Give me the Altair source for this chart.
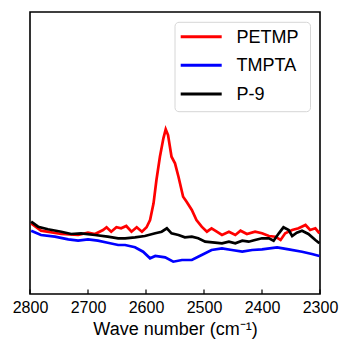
import altair as alt
import pandas as pd

# Wave numbers (cm^-1) and relative intensities (arbitrary units)
petmp_x = [2798, 2781, 2746, 2717, 2700, 2688, 2674, 2668, 2660, 2651, 2643, 2634, 2625, 2616,
           2607, 2599, 2593, 2587, 2582, 2576, 2570, 2566, 2562, 2556, 2550, 2544, 2536, 2530,
           2521, 2513, 2504, 2495, 2487, 2478, 2469, 2457, 2446, 2437, 2426, 2412, 2400, 2388,
           2377, 2368, 2360, 2348, 2337, 2325, 2317, 2308, 2301]
petmp_y = [70.7, 63.3, 60, 59, 61.3, 60, 64, 66.7, 62.3, 66.7, 65.7, 68, 62.3, 66.7,
           62.3, 66.7, 74, 90.7, 114, 137.3, 155.7, 164.7, 159, 137.3, 130.7, 117.3, 97.3, 92.3,
           84, 74, 67.3, 62.3, 65.7, 62.3, 59, 62.3, 59, 63.3, 60, 62.3, 60.7, 58,
           57.3, 54, 60.7, 64, 65.7, 69, 64, 65.7, 60.7]

tmpta_x = [2798, 2781, 2757, 2734, 2717, 2700, 2683, 2666, 2648, 2636, 2619, 2605, 2593, 2584,
           2567, 2553, 2538, 2521, 2504, 2487, 2469, 2452, 2434, 2417, 2400, 2374, 2354, 2331,
           2314, 2301]
tmpta_y = [63.3, 59, 57.3, 54.7, 53.3, 54.7, 53.3, 51.3, 49, 49, 46.7, 42.3, 35.7, 38,
           36.7, 32.3, 34, 34, 39, 44, 45.7, 44, 42.3, 44, 44.7, 46.7, 44.7, 42.3,
           40, 38]

p9_x = [2798, 2786, 2769, 2746, 2729, 2712, 2688, 2666, 2648, 2636, 2619, 2602, 2584, 2573,
        2564, 2556, 2544, 2533, 2521, 2510, 2498, 2481, 2469, 2457, 2446, 2434, 2423, 2412,
        2400, 2388, 2380, 2371, 2363, 2354, 2348, 2340, 2331, 2320, 2308, 2301]
p9_y = [72.3, 67.3, 64.7, 62.3, 60, 60.7, 59, 57.3, 55.7, 55.7, 56.7, 58, 60.7, 62.3,
        65.7, 60.7, 59, 56.7, 57.3, 55.7, 52.3, 51.3, 50.7, 52.3, 50.7, 53.3, 52.3, 54,
        55.7, 55.7, 53.3, 60.7, 66.7, 64, 58, 61.3, 63.3, 60, 54, 50.7]

series_names = ["PETMP", "TMPTA", "P-9"]
series_colors = ["#ff0000", "#0000ff", "#000000"]
tick_values = [2800, 2700, 2600, 2500, 2400, 2300]

frames = []
for name, xs, ys in [("PETMP", petmp_x, petmp_y), ("TMPTA", tmpta_x, tmpta_y), ("P-9", p9_x, p9_y)]:
    frames.append(pd.DataFrame({"wn": xs, "inten": ys, "sample": name, "order": range(len(xs))}))
df = pd.concat(frames, ignore_index=True)
ticks_df = pd.DataFrame({"wn": tick_values})
legend_df = pd.DataFrame({"sample": series_names, "row": range(len(series_names))})

FONT = "Liberation Sans"
xscale = alt.Scale(domain=[2300, 2800], reverse=True, nice=False, zero=False)
yscale = alt.Scale(domain=[0, 282], nice=False, zero=False)
cscale = alt.Scale(domain=series_names, range=series_colors)

lines = alt.Chart(df).mark_line(strokeWidth=2.7, clip=True).encode(
    x=alt.X("wn:Q", scale=xscale,
            axis=alt.Axis(values=tick_values, format="d", title="Wave number (cm⁻¹)",
                          ticks=False, domain=False, grid=False, labelPadding=5,
                          labelFontSize=16, labelFont=FONT, labelColor="black",
                          titleFontSize=18, titleFont=FONT, titleFontWeight="normal",
                          titleColor="black", titlePadding=5, labelFlush=False)),
    y=alt.Y("inten:Q", scale=yscale, axis=None),
    color=alt.Color("sample:N", scale=cscale, legend=None),
    order="order:Q",
)

tickmarks = alt.Chart(ticks_df).mark_rule(color="black", strokeWidth=1.2).encode(
    x=alt.X("wn:Q", scale=xscale),
    y=alt.value(282),
    y2=alt.value(277.5),
)

# legend drawn as marks
legend_box = alt.Chart(ticks_df.head(1)).mark_rect(
    fill="white", stroke="#d6d6d6", strokeWidth=1, cornerRadius=4
).encode(x=alt.value(145), x2=alt.value(280.5), y=alt.value(10.3), y2=alt.value(99.7))

legend_base = alt.Chart(legend_df).transform_calculate(
    ypix="24.7 + datum.row * 28.65"
)
legend_lines = legend_base.mark_rule(strokeWidth=3).encode(
    x=alt.value(150.7), x2=alt.value(191.7),
    y=alt.Y("ypix:Q", scale=None),
    color=alt.Color("sample:N", scale=cscale, legend=None),
)
legend_text = legend_base.mark_text(
    align="left", baseline="middle", fontSize=18, font=FONT, color="black", dy=1
).encode(
    x=alt.value(206.5),
    y=alt.Y("ypix:Q", scale=None),
    text="sample:N",
)

chart = alt.layer(lines, tickmarks, legend_box, legend_lines, legend_text).properties(
    width=290, height=282,
    autosize=alt.AutoSizeParams(type="none"),
    padding={"left": 30, "top": 12, "right": 20, "bottom": 45},
).configure_view(stroke="black", strokeWidth=1.6)

chart.save("out.html", embed_options={"renderer": "svg", "actions": False})
